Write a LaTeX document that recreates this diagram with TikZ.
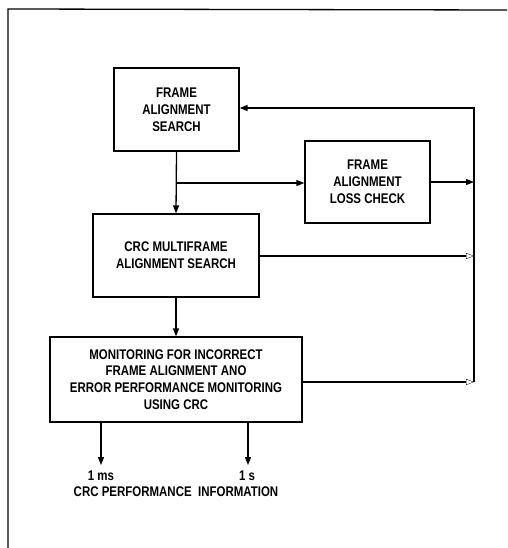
\documentclass[tikz,border=0pt]{standalone}
\usepackage{fontspec}
\setmainfont{Liberation Sans}[FakeStretch=0.82]
\usetikzlibrary{arrows.meta}
\begin{document}
\begin{tikzpicture}[x=1pt,y=-1pt,
  line width=1.3pt,
  blk/.style={draw, rectangle, align=center, inner sep=0pt,
    font=\fontsize{14}{16.8}\selectfont\bfseries},
  flow/.style={-{Triangle[length=8pt,width=6pt]}},
  faint/.style={-{Triangle[open,length=8pt,width=6pt,line width=0.3pt]}},
  lbl/.style={inner sep=0pt, align=center,
    font=\fontsize{14}{16}\selectfont\bfseries}]
  \useasboundingbox (0,0) rectangle (507,548);

  % frame lines along the top and left edge
  \coordinate (fTL) at (8,9);
  \coordinate (fTR) at (507,10);
  \coordinate (fBL) at (8,548);
  \draw (fTR) -- (fTL) -- (fBL);

  % blocks
  \node[blk, minimum width=125, minimum height=83] (fas) at (176.5,109.5)
    {FRAME\\ALIGNMENT\\SEARCH};
  \node[blk, minimum width=125, minimum height=82] (flc) at (367.5,182)
    {FRAME\\ALIGNMENT\\LOSS CHECK};
  \node[blk, minimum width=166, minimum height=83] (crc) at (176,255.5)
    {CRC MULTIFRAME\\ALIGNMENT SEARCH};
  \node[blk, minimum width=252, minimum height=85] (mon) at (176,379.5)
    {MONITORING FOR INCORRECT\\FRAME ALIGNMENT ANO\\ERROR PERFORMANCE MONITORING\\USING CRC};

  % junctions and bus on the right
  \coordinate (j1) at (176,183);
  \coordinate (bTop) at (474,108);
  \coordinate (bFlc) at (474,182);
  \coordinate (bCrc) at (474,256);
  \coordinate (bMon) at (474,382);

  % main flow
  \draw[flow] (fas.south) -- (crc.north);
  \draw[flow] (crc.south) -- (mon.north);
  \draw[flow] (j1) -- (flc.west |- j1);
  \draw[flow] (flc.east |- bFlc) -- (bFlc);
  \draw[flow] (bMon) -- (bTop) -- (fas.east |- bTop);
  \draw[faint] (crc.east |- bCrc) -- (bCrc);
  \draw[faint] (mon.east |- bMon) -- (bMon);

  % outputs
  \coordinate (o1) at (101,465);
  \coordinate (o2) at (248,465);
  \draw[flow] (mon.south -| o1) -- (o1);
  \draw[flow] (mon.south -| o2) -- (o2);
  \node[lbl] (ms) at (101,476) {1 ms};
  \node[lbl] (sec) at (247,476) {1 s};
  \node[lbl] (info) at (176,492) {CRC PERFORMANCE\ \ INFORMATION};
\end{tikzpicture}
\end{document}
